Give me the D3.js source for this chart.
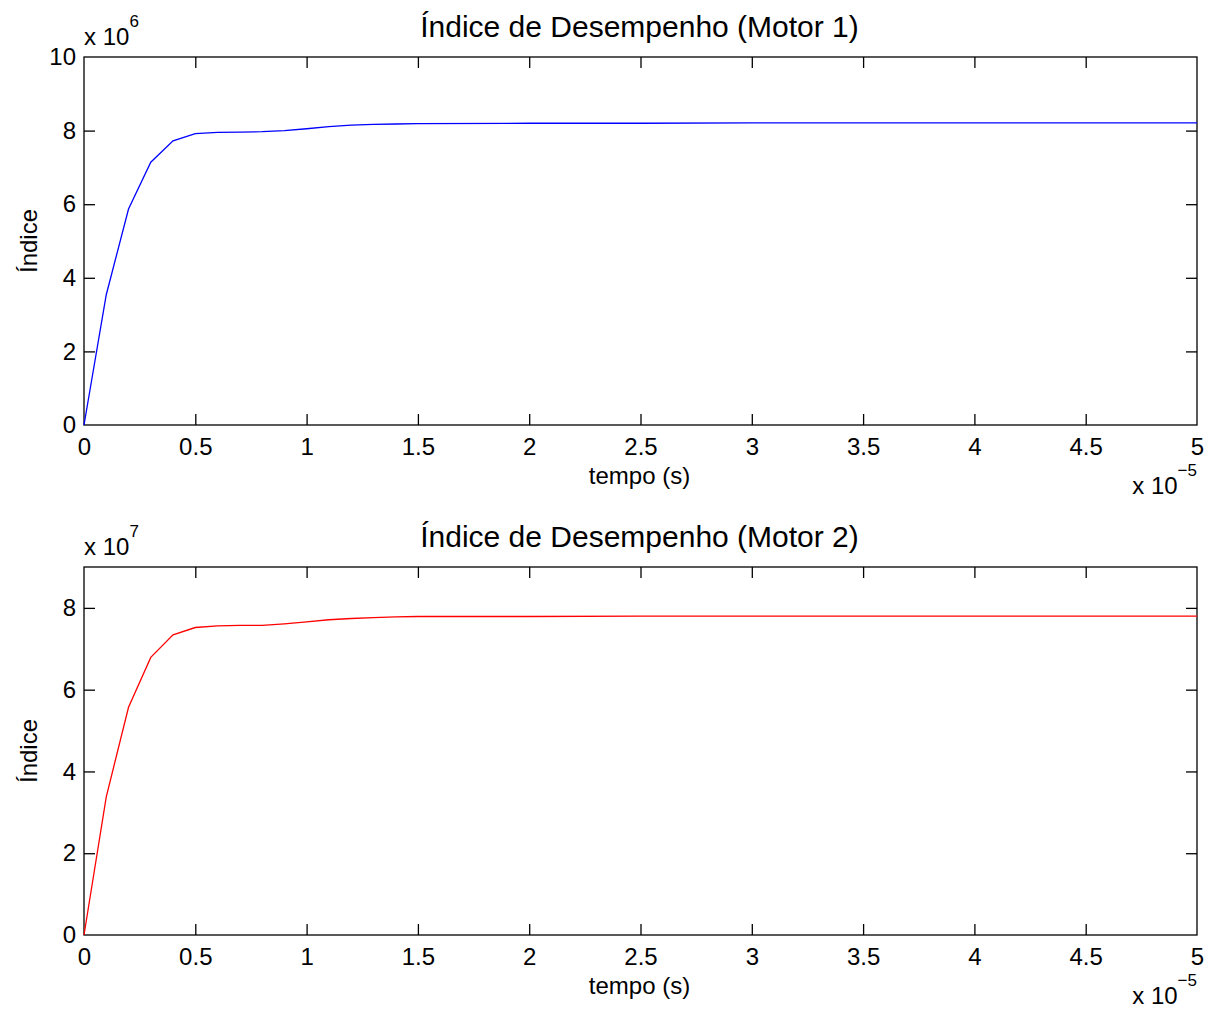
<!DOCTYPE html>
<html>
<head>
<meta charset="utf-8">
<script src="https://cdn.jsdelivr.net/npm/d3@7"></script>
<style>
  body { margin: 0; background: #fff; }
  svg { display: block; font-family: "Liberation Sans", Arial, Helvetica, sans-serif; }
  .axis path, .axis line { stroke: #000; stroke-width: 1.3; }
  .axis text { font-size: 24px; fill: #000; }
</style>
</head>
<body>
<script>
// tempo em unidades de 1e-5 s
var tempo = [0, 0.1, 0.2, 0.3, 0.4, 0.5, 0.6, 0.7, 0.8, 0.9, 1.0, 1.1, 1.2, 1.3, 1.4, 1.5, 2, 2.5, 3, 3.5, 4, 4.5, 5];
// indice motor 1 em unidades de 1e6
var motor1 = [0, 3.54, 5.87, 7.14, 7.72, 7.92, 7.95, 7.96, 7.97, 8.0, 8.05, 8.11, 8.15, 8.17, 8.18, 8.19, 8.2, 8.2, 8.21, 8.21, 8.21, 8.21, 8.21];
// indice motor 2 em unidades de 1e7
var motor2 = [0, 3.38, 5.57, 6.79, 7.34, 7.52, 7.56, 7.57, 7.57, 7.61, 7.66, 7.71, 7.74, 7.76, 7.78, 7.79, 7.79, 7.8, 7.8, 7.8, 7.8, 7.8, 7.8];

var xTicks = [0, 0.5, 1, 1.5, 2, 2.5, 3, 3.5, 4, 4.5, 5];
var yTicks1 = [0, 2, 4, 6, 8, 10];
var yTicks2 = [0, 2, 4, 6, 8];

var W = 1214, H = 1010;
var svg = d3.select("body").append("svg").attr("width", W).attr("height", H);

var panels = [
  { title: "Índice de Desempenho (Motor 1)", values: motor1, ymax: 10, yticks: yTicks1, exp: "6", color: "#0000ff", top: 57, bottom: 425 },
  { title: "Índice de Desempenho (Motor 2)", values: motor2, ymax: 9, yticks: yTicks2, exp: "7", color: "#ff0000", top: 567, bottom: 935 }
];

var left = 84, right = 1197, tick = 11;

panels.forEach(function (p) {
  var g = svg.append("g");
  var x = d3.scaleLinear().domain([0, 5]).range([left, right]);
  var y = d3.scaleLinear().domain([0, p.ymax]).range([p.bottom, p.top]);
  var fmt = function (d) { return String(d); };

  // caixa
  g.append("rect").attr("x", left).attr("y", p.top)
    .attr("width", right - left).attr("height", p.bottom - p.top)
    .attr("fill", "none").attr("stroke", "#000").attr("stroke-width", 1.3);

  g.append("g").attr("class", "axis").attr("transform", "translate(0," + p.bottom + ")")
    .call(d3.axisBottom(x).tickValues(xTicks).tickFormat(fmt).tickSizeInner(-tick).tickSizeOuter(0).tickPadding(13));
  g.append("g").attr("class", "axis").attr("transform", "translate(0," + p.top + ")")
    .call(d3.axisTop(x).tickValues(xTicks).tickFormat("").tickSizeInner(-tick).tickSizeOuter(0));
  g.append("g").attr("class", "axis").attr("transform", "translate(" + left + ",0)")
    .call(d3.axisLeft(y).tickValues(p.yticks).tickFormat(fmt).tickSizeInner(-tick).tickSizeOuter(0).tickPadding(8));
  g.append("g").attr("class", "axis").attr("transform", "translate(" + right + ",0)")
    .call(d3.axisRight(y).tickValues(p.yticks).tickFormat("").tickSizeInner(-tick).tickSizeOuter(0));
  g.selectAll(".axis .domain").remove();
  // sem marcas nos cantos da caixa
  g.selectAll(".axis line").filter(function (d) { return d === 0 || d === 5 || d === p.ymax; }).remove();

  var line = d3.line()
    .x(function (d, i) { return x(tempo[i]); })
    .y(function (d) { return y(d); });
  g.append("path").datum(p.values).attr("d", line)
    .attr("fill", "none").attr("stroke", p.color).attr("stroke-width", 1.3);

  // titulo
  g.append("text").attr("x", (left + right) / 2 - 1).attr("y", p.top - 20)
    .attr("text-anchor", "middle").attr("font-size", 30).text(p.title);

  // rotulo y
  g.append("text").attr("transform", "translate(37," + ((p.top + p.bottom) / 2) + ") rotate(-90)")
    .attr("text-anchor", "middle").attr("font-size", 24).text("Índice");

  // rotulo x
  g.append("text").attr("x", (left + right) / 2 - 1).attr("y", p.bottom + 59)
    .attr("text-anchor", "middle").attr("font-size", 24).text("tempo (s)");

  // expoente y
  var ye = g.append("text").attr("x", left).attr("y", p.top - 12).attr("font-size", 24);
  ye.append("tspan").text("x 10");
  ye.append("tspan").attr("dy", -18).attr("font-size", 17).text(p.exp);

  // expoente x
  var xe = g.append("text").attr("x", right).attr("y", p.bottom + 69).attr("font-size", 24).attr("text-anchor", "end");
  xe.append("tspan").text("x 10");
  xe.append("tspan").attr("dy", -18).attr("font-size", 17).text("\u22125");
});
</script>
</body>
</html>
